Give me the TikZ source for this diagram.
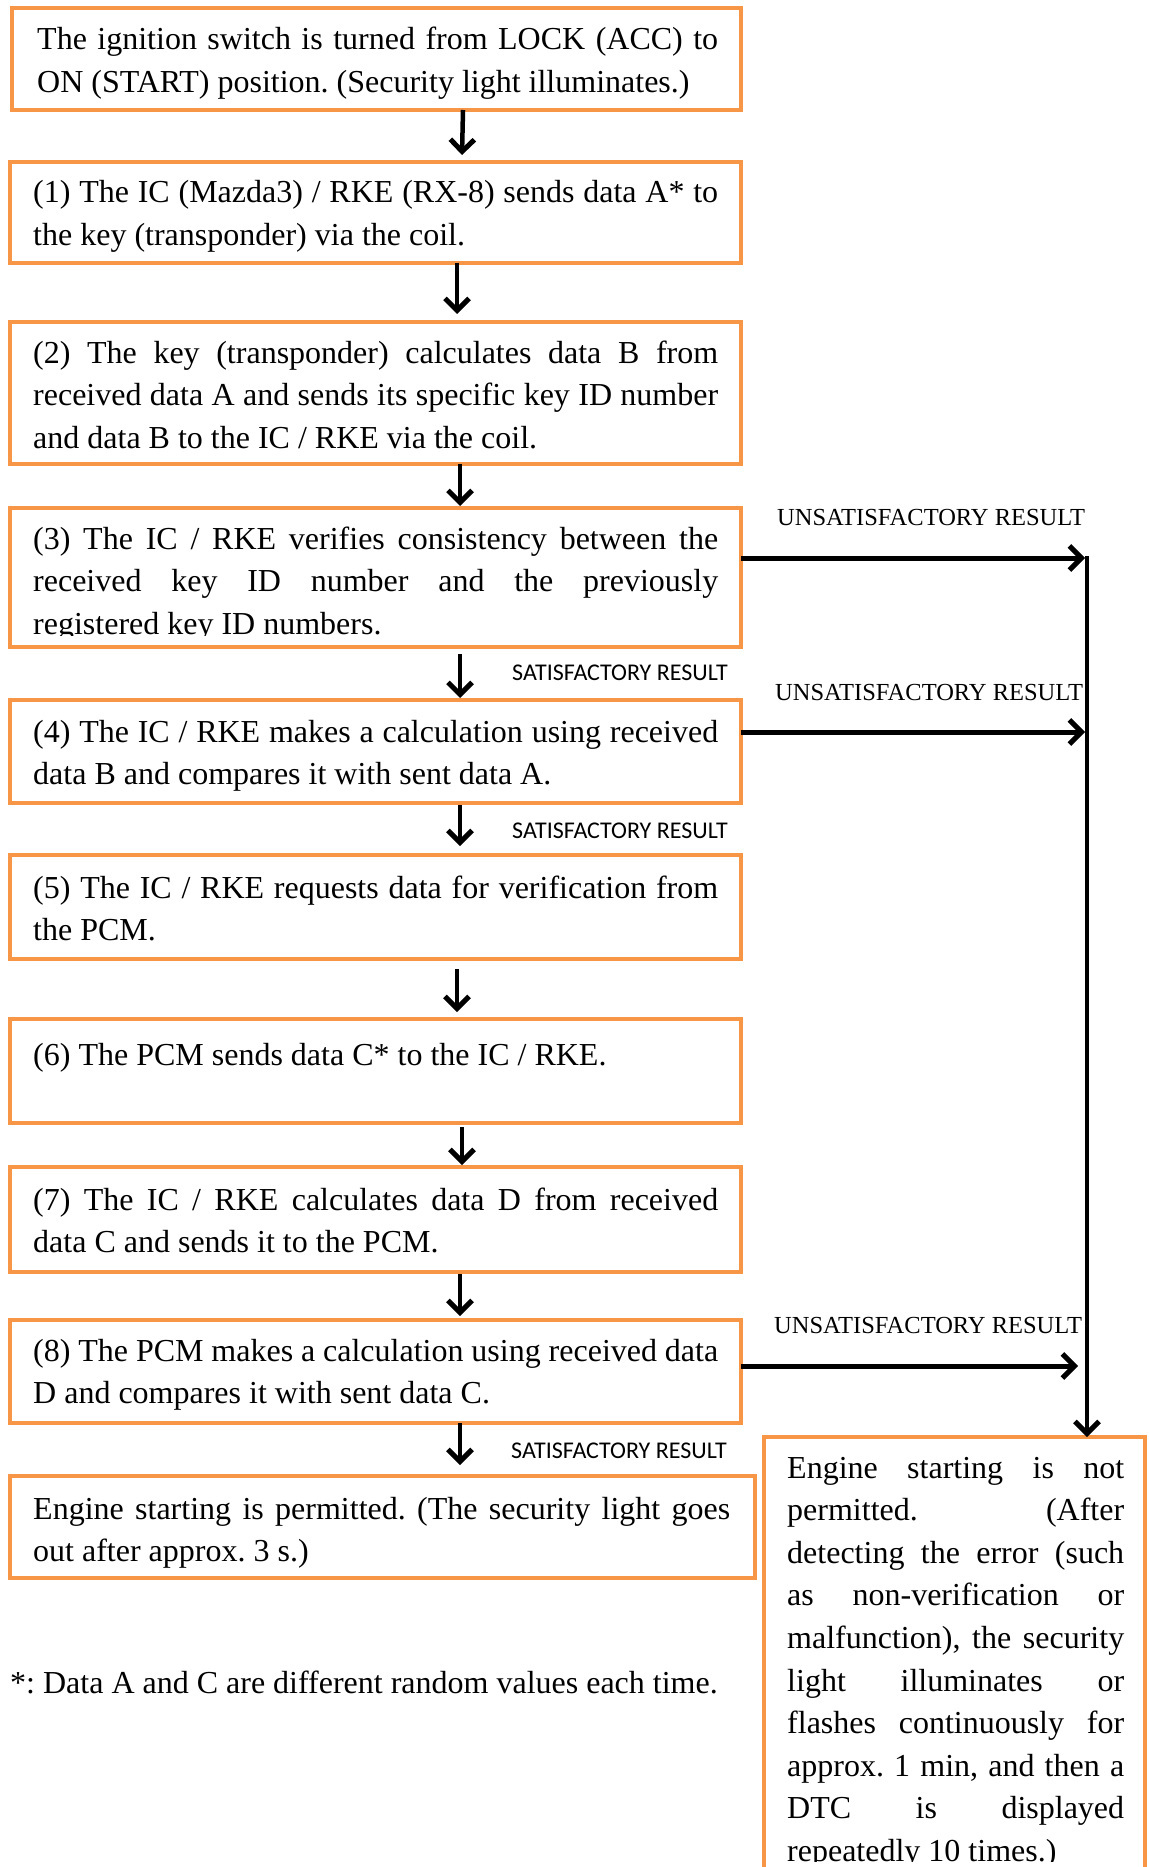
\documentclass[tikz,border=0pt]{standalone}
\usepackage{fontspec}
\setmainfont{Liberation Serif}
\newfontfamily\labelsans{Carlito}
\usetikzlibrary{arrows.meta}
\definecolor{boxorange}{HTML}{F79646}

% one fully justified line of a paragraph
\newcommand{\jl}[1]{\makebox[\linewidth][s]{#1}\\}

\tikzset{
  stepbox/.style={draw=boxorange, line width=4.5pt, inner sep=0pt, outer sep=0pt, anchor=north west},
  boxtext/.style={anchor=base west, inner sep=0pt, font=\fontsize{32}{42.6}\selectfont},
  satlabel/.style={anchor=base west, inner sep=0pt, font=\labelsans\fontsize{24}{28}\selectfont},
  unsatlabel/.style={anchor=base west, inner sep=0pt, font=\fontsize{24.5}{28}\selectfont},
  flow/.style={line width=4.5pt, -{Straight Barb[length=12pt,width=24pt,line width=5pt]}},
  sideflow/.style={line width=5pt, -{Straight Barb[length=12pt,width=24pt,line width=5pt]}},
}

\begin{document}
\frenchspacing
\begin{tikzpicture}[x=1pt,y=-1pt]
\clip (0,0) rectangle (1148,1867);
\useasboundingbox (0,0) rectangle (1148,1867);

% ---- texts of the steps ----
\node[boxtext] (t0) at (37,50) {\parbox[t]{681pt}{%
  \jl{The ignition switch is turned from LOCK (ACC) to}
  ON (START) position. (Security light illuminates.)}};
\node[boxtext] (t1) at (33,203) {\parbox[t]{685pt}{%
  \jl{(1) The IC (Mazda3) / RKE (RX-8) sends data A* to}
  the key (transponder) via the coil.}};
\node[boxtext] (t2) at (33,363) {\parbox[t]{685pt}{%
  \jl{(2) The key (transponder) calculates data B from}
  \jl{received data A and sends its specific key ID number}
  and data B to the IC / RKE via the coil.}};
\begin{scope}
  \clip (0,500) rectangle (760,635);
  \node[boxtext] (t3) at (33,549) {\parbox[t]{685pt}{%
    \jl{(3) The IC / RKE verifies consistency between the}
    \jl{received key ID number and the previously}
    registered key ID numbers.}};
\end{scope}
\node[boxtext] (t4) at (33,742) {\parbox[t]{685pt}{%
  \jl{(4) The IC / RKE makes a calculation using received}
  data B and compares it with sent data A.}};
\node[boxtext] (t5) at (33,898) {\parbox[t]{685pt}{%
  \jl{(5) The IC / RKE requests data for verification from}
  the PCM.}};
\node[boxtext] (t6) at (33,1065) {(6) The PCM sends data C* to the IC / RKE.};
\node[boxtext] (t7) at (33,1210) {\parbox[t]{685pt}{%
  \jl{(7) The IC / RKE calculates data D from received}
  data C and sends it to the PCM.}};
\node[boxtext] (t8) at (33,1361) {\parbox[t]{685pt}{%
  \jl{(8) The PCM makes a calculation using received data}
  D and compares it with sent data C.}};
\node[boxtext] (t9) at (33,1519) {\parbox[t]{697pt}{%
  \jl{Engine starting is permitted. (The security light goes}
  out after approx. 3 s.)}};
\begin{scope}
  \clip (760,1440) rectangle (1148,1861);
  \node[boxtext] (tR) at (787,1478) {\parbox[t]{337pt}{%
    \jl{Engine starting is not}
    \jl{permitted. (After}
    \jl{detecting the error (such}
    \jl{as non-verification or}
    \jl{malfunction), the security}
    \jl{light illuminates or}
    \jl{flashes continuously for}
    \jl{approx. 1 min, and then a}
    \jl{DTC is displayed}
    repeatedly 10 times.)}};
\end{scope}

% footnote
\node[boxtext] (note) at (10,1693) {*: Data A and C are different random values each time.};

% ---- orange frames ----
\node[stepbox, minimum width=729pt, minimum height=102pt] (b0) at (12,8) {};
\node[stepbox, minimum width=731pt, minimum height=101pt] (b1) at (10,162) {};
\node[stepbox, minimum width=731pt, minimum height=142pt] (b2) at (10,322) {};
\node[stepbox, minimum width=731pt, minimum height=139pt] (b3) at (10,508) {};
\node[stepbox, minimum width=731pt, minimum height=103pt] (b4) at (10,700) {};
\node[stepbox, minimum width=731pt, minimum height=104pt] (b5) at (10,855) {};
\node[stepbox, minimum width=731pt, minimum height=104pt] (b6) at (10,1019) {};
\node[stepbox, minimum width=731pt, minimum height=105pt] (b7) at (10,1167) {};
\node[stepbox, minimum width=731pt, minimum height=103pt] (b8) at (10,1320) {};
\node[stepbox, minimum width=745pt, minimum height=102pt] (b9) at (10,1476) {};
\node[stepbox, minimum width=381pt, minimum height=470pt] (bR) at (764,1437) {};

% ---- downward flow ----
\draw[flow] ([xshift=86.5pt]b0.south) -- ([xshift=86.5pt,yshift=7pt]b1.north);
\draw[flow] ([xshift=81.5pt]b1.south) -- ([xshift=81.5pt,yshift=8pt]b2.north);
\draw[flow] ([xshift=84.5pt]b2.south) -- ([xshift=84.5pt,yshift=2pt]b3.north);
\draw[flow] ([xshift=84.5pt,yshift=-7pt]b3.south) -- ([xshift=84.5pt,yshift=2pt]b4.north);
\draw[flow] ([xshift=84.5pt,yshift=-2pt]b4.south) -- ([xshift=84.5pt,yshift=9pt]b5.north);
\draw[flow] ([xshift=81.5pt,yshift=-10pt]b5.south) -- ([xshift=81.5pt,yshift=7pt]b6.north);
\draw[flow] ([xshift=86.5pt,yshift=-4pt]b6.south) -- ([xshift=86.5pt,yshift=2pt]b7.north);
\draw[flow] ([xshift=84.5pt,yshift=-2pt]b7.south) -- ([xshift=84.5pt,yshift=4pt]b8.north);
\coordinate (a8) at ([xshift=84.5pt]b8.south);
\draw[flow, shorten >=11pt] (a8) -- (a8 |- b9.north);

% ---- failure path ----
\coordinate (rtop) at (1087,556);
\draw[flow] (rtop) -- (rtop |- bR.north);
\draw[sideflow, shorten >=2pt] ([yshift=19.5pt]b3.east) -- ([yshift=19.5pt]b3.east -| rtop);
\draw[sideflow, shorten >=2pt] ([yshift=19.5pt]b4.east) -- ([yshift=19.5pt]b4.east -| rtop);
\draw[sideflow, shorten >=9pt] ([yshift=5.5pt]b8.east) -- ([yshift=5.5pt]b8.east -| rtop);

% ---- result labels ----
\node[satlabel] (s1) at (512,680) {SATISFACTORY RESULT};
\node[satlabel] (s2) at (512,838) {SATISFACTORY RESULT};
\node[satlabel] (s3) at (511,1458) {SATISFACTORY RESULT};
\node[unsatlabel] (u1) at (777,525) {UNSATISFACTORY RESULT};
\node[unsatlabel] (u2) at (775,700) {UNSATISFACTORY RESULT};
\node[unsatlabel] (u3) at (774,1333) {UNSATISFACTORY RESULT};
\end{tikzpicture}
\end{document}
